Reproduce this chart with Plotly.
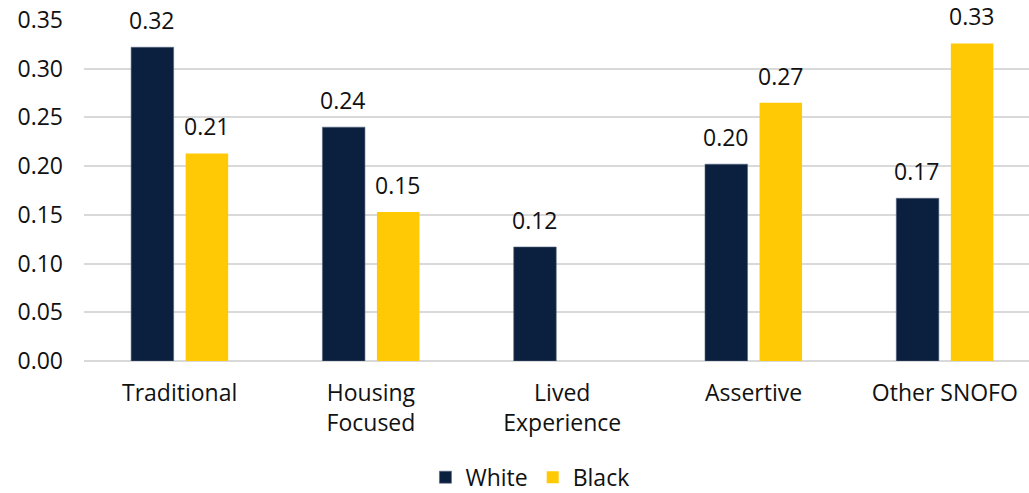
import plotly.graph_objects as go

categories = ["Traditional", "Housing<br>Focused", "Lived<br>Experience", "Assertive", "Other SNOFO"]
white_values = [0.322, 0.240, 0.117, 0.202, 0.167]
black_values = [0.213, 0.153, None, 0.265, 0.326]
y_ticks = [0.00, 0.05, 0.10, 0.15, 0.20, 0.25, 0.30, 0.35]

NAVY = "#0b1f3f"
GOLD = "#ffca05"
FONT = "'Open Sans', sans-serif"
FS = 23

fig = go.Figure()
fig.add_trace(go.Bar(name="White", x=categories, y=white_values,
                     marker=dict(color=NAVY, line=dict(color="#55657d", width=0.6))))
fig.add_trace(go.Bar(name="Black", x=categories, y=black_values,
                     marker=dict(color=GOLD, line=dict(width=0))))

annotations = []
for series, shift in ((white_values, -27.5), (black_values, 27.5)):
    for cat, v in zip(categories, series):
        if v is None:
            continue
        annotations.append(dict(x=cat, y=v, xref="x", yref="y", text=f"{v:.2f}",
                                showarrow=False, xshift=shift, yshift=9,
                                yanchor="bottom", font=dict(size=FS, color="#111111", family=FONT)))

fig.update_layout(
    width=1029, height=493,
    margin=dict(l=84, r=0, t=20, b=132),
    paper_bgcolor="white", plot_bgcolor="white",
    barmode="group", bargap=0.43, bargroupgap=0.22,
    font=dict(family=FONT, size=FS, color="#111111"),
    annotations=annotations,
    legend=dict(orientation="h", x=0.515, xanchor="center", xref="container",
                y=0.032, yanchor="middle", yref="container",
                font=dict(size=FS), itemwidth=30, traceorder="normal"),
    showlegend=True,
)
fig.update_yaxes(range=[0, 0.35], tickvals=y_ticks, tickformat=".2f",
                 showgrid=True, gridcolor="#d9d9d9", gridwidth=2,
                 zeroline=True, zerolinecolor="#d9d9d9", zerolinewidth=2,
                 ticks="", ticklabelstandoff=20, showline=False)
fig.update_xaxes(range=[-0.5, 4.44], showgrid=False, ticks="", showline=False, ticklabelstandoff=16)

fig.write_html("out.html")
